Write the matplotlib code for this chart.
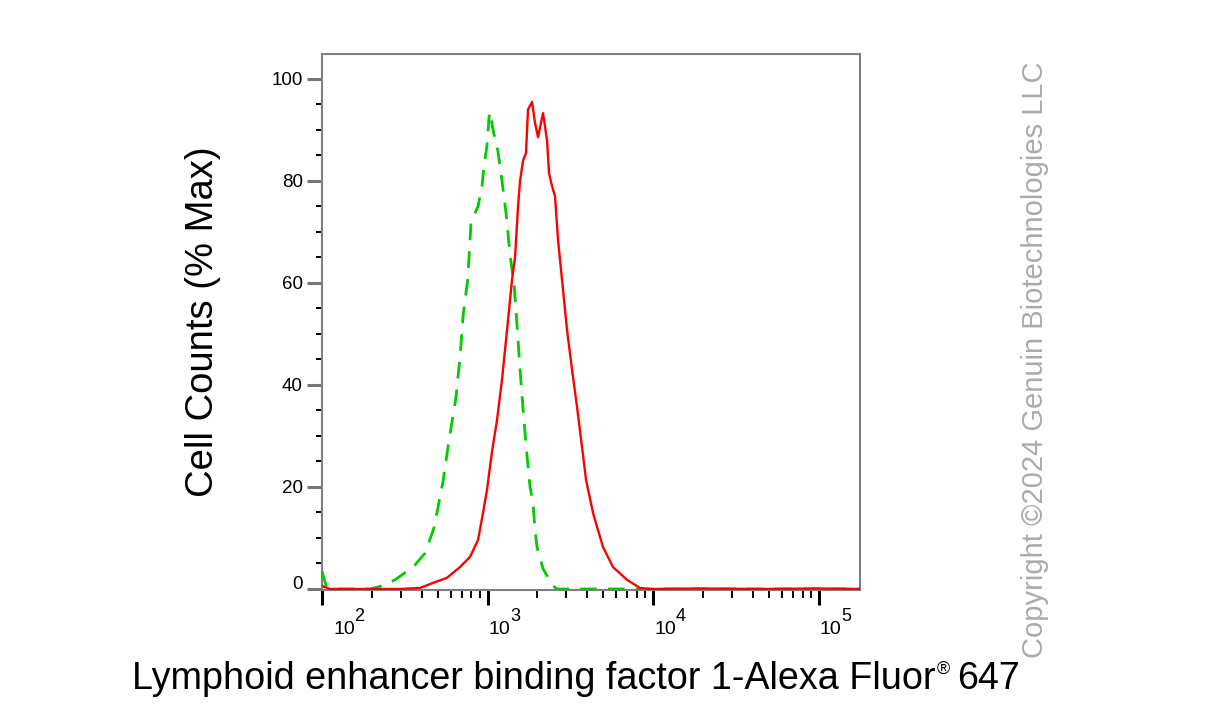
import numpy as np
import matplotlib.pyplot as plt
import matplotlib.transforms as mtransforms
from matplotlib.ticker import LogLocator, MultipleLocator, NullFormatter

plt.rcParams['font.family'] = ['Liberation Sans', 'DejaVu Sans']

# isotype control (green, dashed)
ctrl_x = [100, 106, 115, 195, 224, 276, 355, 419, 475, 538, 585, 645, 682, 714,
          759, 784, 795, 876, 926, 952, 993, 1021, 1035, 1080, 1157, 1223, 1294,
          1368, 1452, 1514, 1572, 1646, 1726, 1806, 1883, 1936, 1991, 2164, 2453,
          2630, 9600, 178000]
ctrl_y = [3.5, 0.5, 0, 0, 0.5, 1.8, 4.3, 7, 12, 21, 29.2, 37.6, 45.5, 54,
          60.6, 68.4, 72, 75, 79, 83, 87, 92.5, 93.5, 90, 85.7, 80, 73.7,
          65.5, 59.2, 50.8, 43, 34.5, 26.7, 20, 16.8, 11.6, 8.2, 4, 0.8,
          0, 0, 0]

# LEF1 stained sample (red, solid)
lef1_x = [100, 112, 296, 391, 469, 569, 682, 784, 876, 939, 993, 1021, 1065,
          1141, 1223, 1312, 1406, 1466, 1529, 1572, 1639, 1708, 1756, 1857,
          1936, 2019, 2164, 2288, 2353, 2453, 2558, 2667, 2820, 3022, 3240,
          3474, 3724, 3937, 4341, 4988, 5732, 6966, 8347, 9600, 19230, 44360,
          102100, 178000]
lef1_y = [0.6, 0, 0, 0.2, 1.2, 2.2, 4.3, 6.3, 9.6, 14.9, 19.5, 22.5, 27,
          33.1, 41, 50.8, 60.6, 65, 75, 80, 84, 85.5, 94, 95.5,
          91.4, 88.6, 93.3, 88, 81.5, 79, 77, 68.4, 60.6, 50.8, 43,
          35.7, 27.8, 21.4, 14.9, 8.2, 4.3, 1.8, 0.2, 0, 0.1, 0,
          0.1, 0]

x_major = [1e2, 1e3, 1e4, 1e5]
x_exps = ['2', '3', '4', '5']
y_major = [0, 20, 40, 60, 80, 100]

fig = plt.figure(figsize=(12.07, 7.15), dpi=100)
ax = fig.add_axes([0.2668, 0.1748, 0.4457, 0.7497])

ax.plot(ctrl_x, ctrl_y, color='#00cc00', lw=2.0, ls=(0, (6, 4)), zorder=3)
ax.plot(lef1_x, lef1_y, color='#ff0000', lw=1.7, zorder=4)

ax.set_xscale('log')
ax.set_xlim(100, 178000)
ax.set_ylim(-0.2, 104.9)

ax.set_xticks(x_major)
ax.set_xticklabels([])
ax.xaxis.set_minor_locator(LogLocator(base=10, subs=np.arange(2, 10)))
ax.xaxis.set_minor_formatter(NullFormatter())
ax.set_yticks(y_major)
ax.yaxis.set_minor_locator(MultipleLocator(5))

ax.tick_params(axis='x', which='major', length=11, width=2.2, color='black')
ax.tick_params(axis='x', which='minor', length=6, width=1.4, color='black')
ax.tick_params(axis='y', which='major', length=10.8, width=2.2, color='#777777',
               labelsize=13.5, pad=3)
ax.tick_params(axis='y', which='minor', length=4.3, width=1.4, color='black')

# the "0" label sits a little above its tick
zero = ax.get_yticklabels()[0]
zero.set_transform(zero.get_transform() +
                   mtransforms.ScaledTranslation(0, 0.06, fig.dpi_scale_trans))

# x tick labels: "10" with a large exponent
xtrans = mtransforms.blended_transform_factory(ax.transData, ax.transAxes)
for i, (xv, ex) in enumerate(zip(x_major, x_exps)):
    dx = 0.11 if i == 0 else 0.01
    base = xtrans + mtransforms.ScaledTranslation(dx, -0.31, fig.dpi_scale_trans)
    ax.text(xv, 0, '10', transform=base, fontsize=14,
            ha='left', va='top', clip_on=False)
    sup = xtrans + mtransforms.ScaledTranslation(dx + 0.215, -0.18, fig.dpi_scale_trans)
    ax.text(xv, 0, ex, transform=sup, fontsize=13,
            ha='left', va='top', clip_on=False)

for sp in ax.spines.values():
    sp.set_color('#808080')
    sp.set_linewidth(1.5)

# x label with a small registered sign
renderer = fig.canvas.get_renderer()
lab_y = 1 - 689 / 715
part_a = fig.text(0, lab_y, 'Lymphoid enhancer binding factor 1-Alexa Fluor',
                  fontsize=27.2, ha='left', va='baseline')
part_b = fig.text(0, 1 - 661 / 715, '®', fontsize=13, ha='left', va='top')
part_c = fig.text(0, lab_y, '647', fontsize=27.2, ha='left', va='baseline')
wa = part_a.get_window_extent(renderer).width
wb = part_b.get_window_extent(renderer).width
wc = part_c.get_window_extent(renderer).width
gap1, gap2 = 1.0, 7.0
total = wa + gap1 + wb + gap2 + wc
left = 576 - total / 2
W = fig.bbox.width
part_a.set_x(left / W)
part_b.set_x((left + wa + gap1) / W)
part_c.set_x((left + wa + gap1 + wb + gap2) / W)

fig.text(203 / 1207, 1 - 322 / 715, 'Cell Counts (% Max)', fontsize=27.5,
         rotation=90, ha='center', va='center')
fig.text(1035 / 1207, 1 - 360 / 715, 'Copyright ©2024 Genuin Biotechnologies LLC',
         fontsize=21, rotation=90, ha='center', va='center', color='#ababab')

fig.savefig('out.png', dpi=100)
